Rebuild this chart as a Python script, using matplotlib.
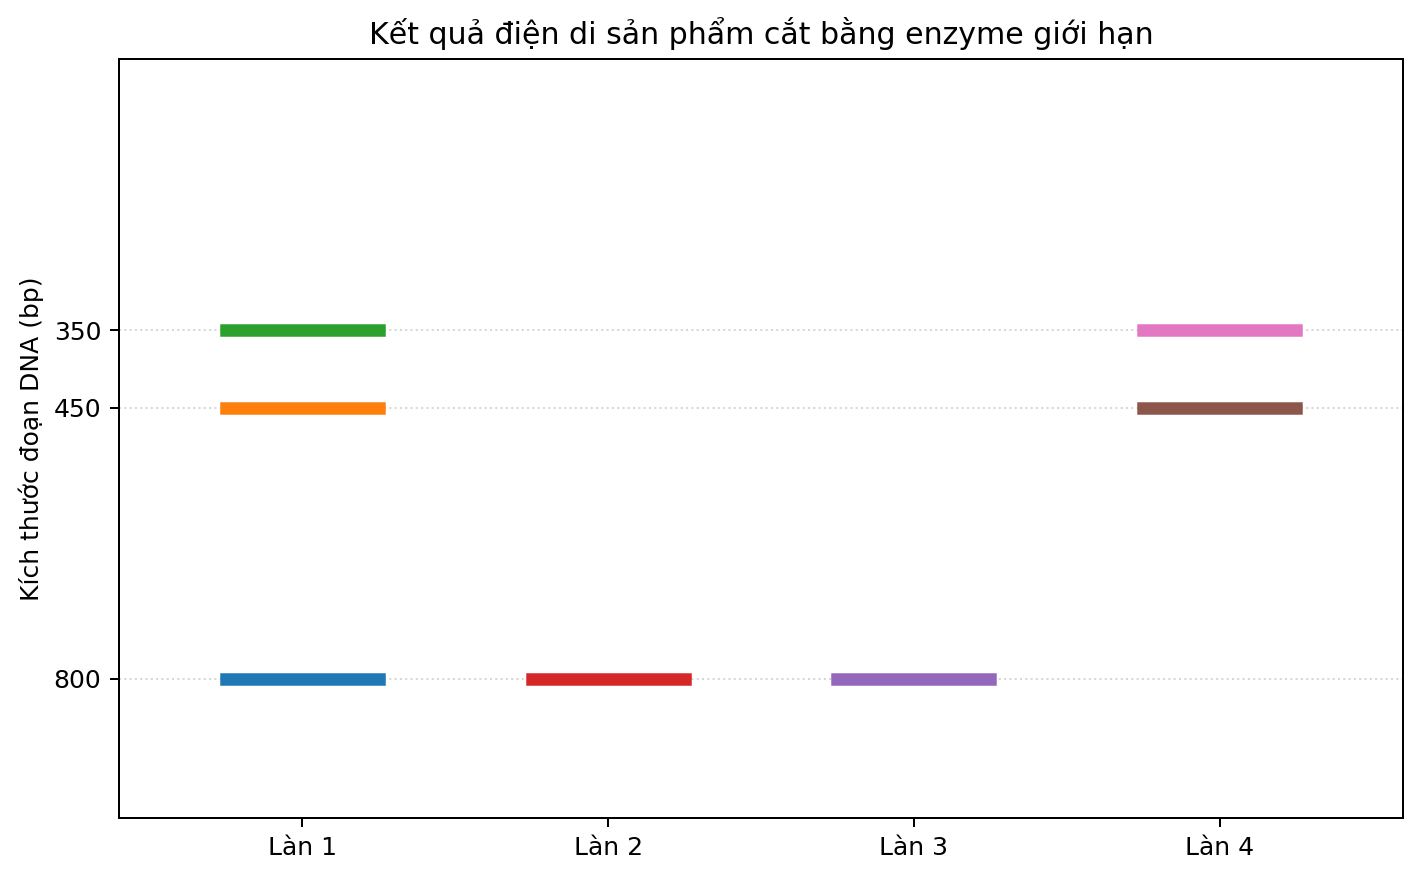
import numpy as np
import matplotlib
matplotlib.use("Agg")
import matplotlib.pyplot as plt

lanes = ["Làn 1", "Làn 2", "Làn 3", "Làn 4"]
# band sizes (bp) per lane, in drawing order
lane1 = [800, 450, 350]
lane2 = [800]
lane3 = [800]
lane4 = [450, 350]
bands = [lane1, lane2, lane3, lane4]
ytick_vals = [350, 450, 800]

dpi = 180
fig = plt.figure(figsize=(1421 / dpi, 878 / dpi), dpi=dpi)
ax = fig.add_axes([119 / 1421, 1 - 818 / 878, (1403 - 119) / 1421, (818 - 59) / 878])

for i, sizes in enumerate(bands):
    x = i + 1
    for s in sizes:
        ax.plot([x - 0.25, x + 0.25], [s, s], lw=5, solid_capstyle="projecting", zorder=3)

ax.set_xticks(range(1, len(lanes) + 1))
ax.set_xticklabels(lanes)
ax.set_xlim(0.4, 4.6)
ax.set_yticks(ytick_vals)
ax.set_ylim(980, 0)
ax.grid(axis="y", linestyle=":", color="#cccccc", alpha=0.8, zorder=0)
ax.set_ylabel("Kích thước đoạn DNA (bp)")
ax.set_title("Kết quả điện di sản phẩm cắt bằng enzyme giới hạn")

fig.savefig("out.png", dpi=dpi)
